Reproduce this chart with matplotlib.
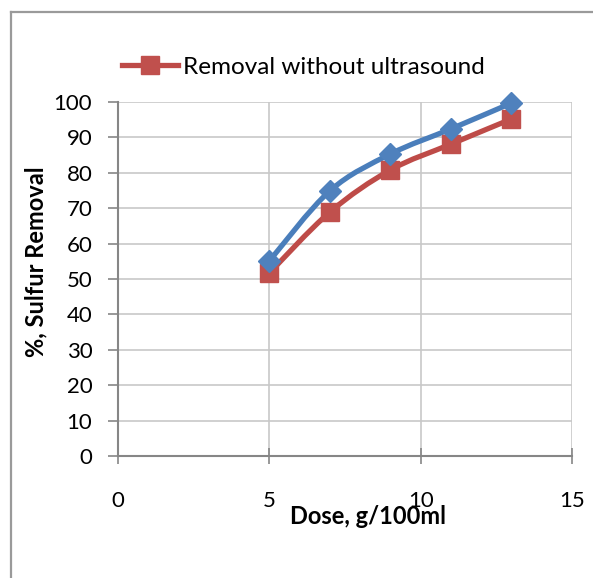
import matplotlib
matplotlib.use("Agg")
import matplotlib.pyplot as plt
import numpy as np
from matplotlib.path import Path
from matplotlib.patches import PathPatch
from matplotlib.lines import Line2D

plt.rcParams['font.family'] = ['Lato', 'DejaVu Sans']

dose = [5, 7, 9, 11, 13]
with_us = [55.1, 74.9, 85.3, 92.4, 99.7]
without_us = [51.7, 68.9, 80.8, 88.1, 95.2]
legend_label = "Removal without ultrasound"
x_ticks = [0, 5, 10, 15]
y_ticks = list(range(0, 101, 10))

blue_line = '#4A7EBB'
blue_mk = '#4F81BD'
red_line = '#BE4B48'
red_mk = '#C0504D'

W, H = 593, 578
fig = plt.figure(figsize=(W / 100, H / 100), dpi=100)
ax = fig.add_axes([118 / W, 1 - 456 / H, (572 - 118) / W, (456 - 102) / H])
ax.set_xlim(0, 15)
ax.set_ylim(0, 100)


def smooth_path(xs, ys, t=1 / 6):
    xs = np.asarray(xs, float)
    ys = np.asarray(ys, float)
    pts = np.column_stack([xs, ys])
    n = len(pts)
    verts = [pts[0]]
    codes = [Path.MOVETO]
    for i in range(n - 1):
        p0 = pts[i - 1] if i > 0 else pts[i]
        p1 = pts[i]
        p2 = pts[i + 1]
        p3 = pts[i + 2] if i + 2 < n else pts[i + 1]
        c1 = p1 + (p2 - p0) * t
        c2 = p2 - (p3 - p1) * t
        verts += [c1, c2, p2]
        codes += [Path.CURVE4] * 3
    return Path(verts, codes)


for ys, lc, mc, mk, ms in [(without_us, red_line, red_mk, 's', 13),
                           (with_us, blue_line, blue_mk, 'D', 11.5)]:
    patch = PathPatch(smooth_path(dose, ys), facecolor='none', edgecolor=lc,
                      lw=3.8, capstyle='round', joinstyle='round', zorder=3,
                      transform=ax.transData)
    ax.add_patch(patch)
    ax.plot(dose, ys, linestyle='none', marker=mk, markersize=ms,
            markerfacecolor=mc, markeredgecolor=mc, zorder=4, clip_on=False)

ax.set_xticks(x_ticks)
ax.set_yticks(y_ticks)
ax.grid(True, color='#C8C8C8', lw=1.2)
ax.set_axisbelow(True)
for s in ['top', 'right']:
    ax.spines[s].set_visible(False)
for s in ['left', 'bottom']:
    ax.spines[s].set_color('#868686')
    ax.spines[s].set_linewidth(1.5)
ax.tick_params(axis='y', direction='out', length=7, width=1.2, color='#868686',
               labelsize=16, pad=11.5, labelcolor='black')
ax.tick_params(axis='x', direction='inout', length=12, width=1.2, color='#868686',
               labelsize=16, pad=19, labelcolor='black')

ax.set_ylabel("%, Sulfur Removal", fontsize=17, fontweight='bold')
ax.yaxis.set_label_coords(-(118 - 47) / (572 - 118), (456 - 262) / (456 - 102))
fig.text(368 / W, 1 - 517 / H, "Dose, g/100ml", fontsize=17, fontweight='bold',
         ha='center', va='center')

handle = Line2D([], [], color=red_line, lw=3.8, marker='s', markersize=13,
                markerfacecolor=red_mk, markeredgecolor=red_mk)
fig.legend([handle], [legend_label], loc='center left',
           bbox_to_anchor=(122 / W, 1 - 67 / H), frameon=False,
           fontsize=17.5, handlelength=2.3, handletextpad=0.2, borderpad=0,
           borderaxespad=0)

# chart frame (left and top edges visible)
fig.add_artist(Line2D([10.5 / W, 10.5 / W], [0, 1 - 12 / H], color='#9A9A9A', lw=1.6,
                      transform=fig.transFigure))
fig.add_artist(Line2D([10.5 / W, 1], [1 - 12 / H, 1 - 12 / H], color='#9A9A9A', lw=1.6,
                      transform=fig.transFigure))

fig.savefig('out.png', dpi=100)
